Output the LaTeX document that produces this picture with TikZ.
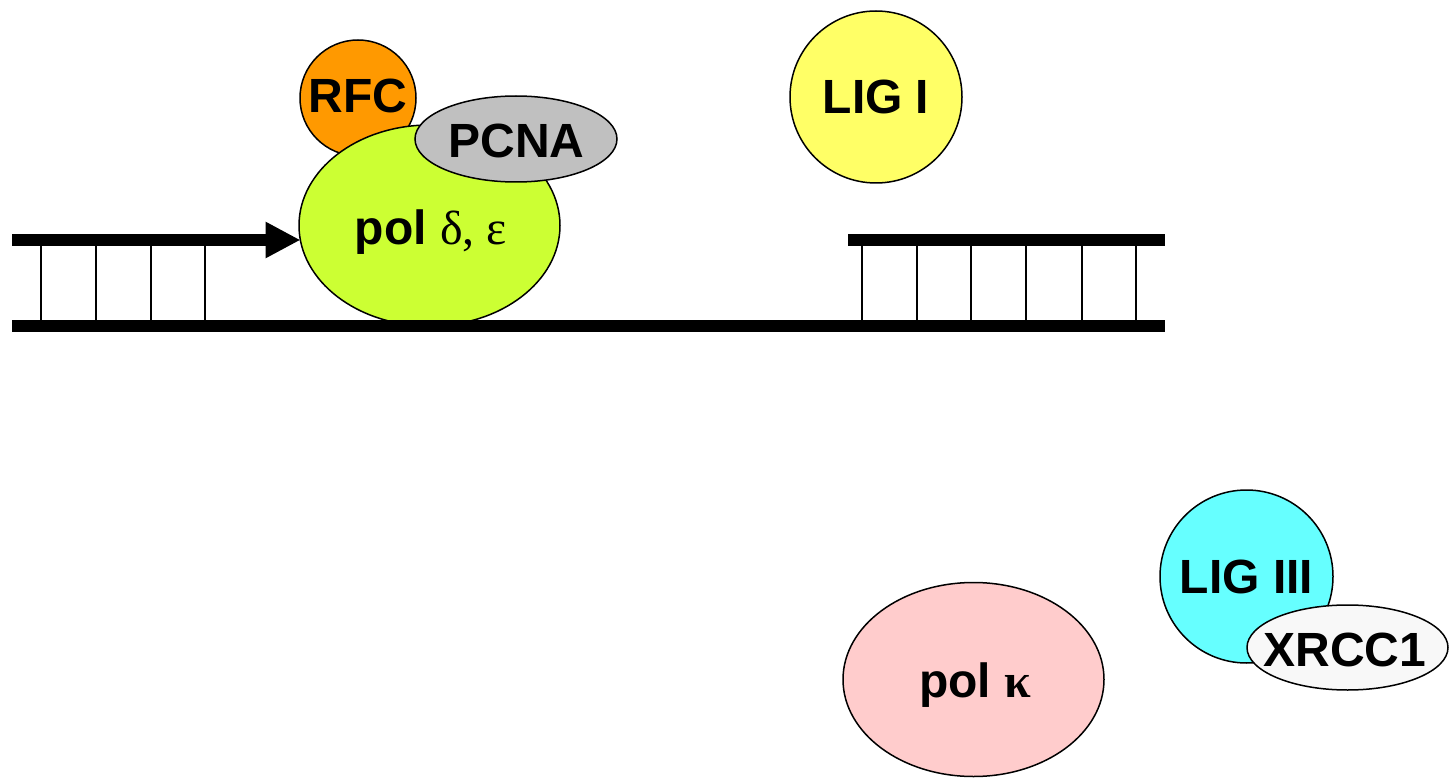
\documentclass[tikz,border=0pt]{standalone}
\usepackage{fontspec}
\setmainfont{Liberation Sans}
\newfontfamily\grk{Liberation Serif}
\usetikzlibrary{shapes.geometric,arrows.meta}
\definecolor{rfccol}{HTML}{FF9900}
\definecolor{pcnacol}{HTML}{C0C0C0}
\definecolor{poldcol}{HTML}{CCFF33}
\definecolor{lig1col}{HTML}{FFFF66}
\definecolor{lig3col}{HTML}{66FFFF}
\definecolor{xrcccol}{HTML}{F8F8F8}
\definecolor{polkcol}{HTML}{FFCCCC}
\begin{document}
\begin{tikzpicture}[x=1pt,y=-1pt,
  prot/.style={draw=black, line width=1.5pt, inner sep=0pt},
  lbl/.style={font=\fontsize{48}{56}\selectfont\bfseries, anchor=base, inner sep=0pt},
  strand/.style={line width=12pt},
  rung/.style={line width=2pt}]
\useasboundingbox (0,0) rectangle (1451,778);
% proteins
\node[prot, circle, fill=rfccol, minimum size=116pt] (rfc) at (358,98) {};
\node[prot, ellipse, fill=poldcol, minimum width=261pt, minimum height=201pt] (pol) at (429.5,225.5) {};
\node[prot, ellipse, fill=pcnacol, minimum width=202pt, minimum height=86pt] (pcna) at (516,139) {};
\node[prot, circle, fill=lig1col, minimum size=172pt] (lig1) at (876,97) {};
\node[prot, circle, fill=lig3col, minimum size=173pt] (lig3) at (1246.5,576.5) {};
\node[prot, ellipse, fill=xrcccol, minimum width=201pt, minimum height=85pt] (xrcc) at (1347.5,647.5) {};
\node[prot, ellipse, fill=polkcol, minimum width=261pt, minimum height=194pt] (polk) at (973.5,679.5) {};
% DNA
\coordinate (tl) at (12,240);
\coordinate (tip) at (300.5,240);
\coordinate (bl) at (12,326);
\coordinate (br) at (1165,326);
\coordinate (trl) at (848,240);
\coordinate (trr) at (1165,240);
\draw[strand] (bl) -- (br);
\draw[strand] (trl) -- (trr);
\draw[strand, -{Triangle[length=35pt,width=34pt]}] (tl) -- (tip);
\foreach \x in {41,96,151,205} \draw[rung] (\x,246) -- (\x,320);
\foreach \x in {862,917,971,1026,1082,1136} \draw[rung] (\x,246) -- (\x,320);
% labels
\node[lbl] (rfc-t) at (358,113) {RFC};
\node[lbl] (pcna-t) at (516.5,158) {PCNA};
\node[lbl] (pol-t) at (431,244) {pol {\grk\mdseries δ, ε}};
\node[lbl] (lig1-t) at (876,114) {LIG I};
\node[lbl] (lig3-t) at (1246.5,593) {LIG III};
\node[lbl] (xrcc-t) at (1345,666) {XRCC1};
\node[lbl] (polk-t) at (975,697) {pol {\grk κ}};
\end{tikzpicture}
\end{document}
